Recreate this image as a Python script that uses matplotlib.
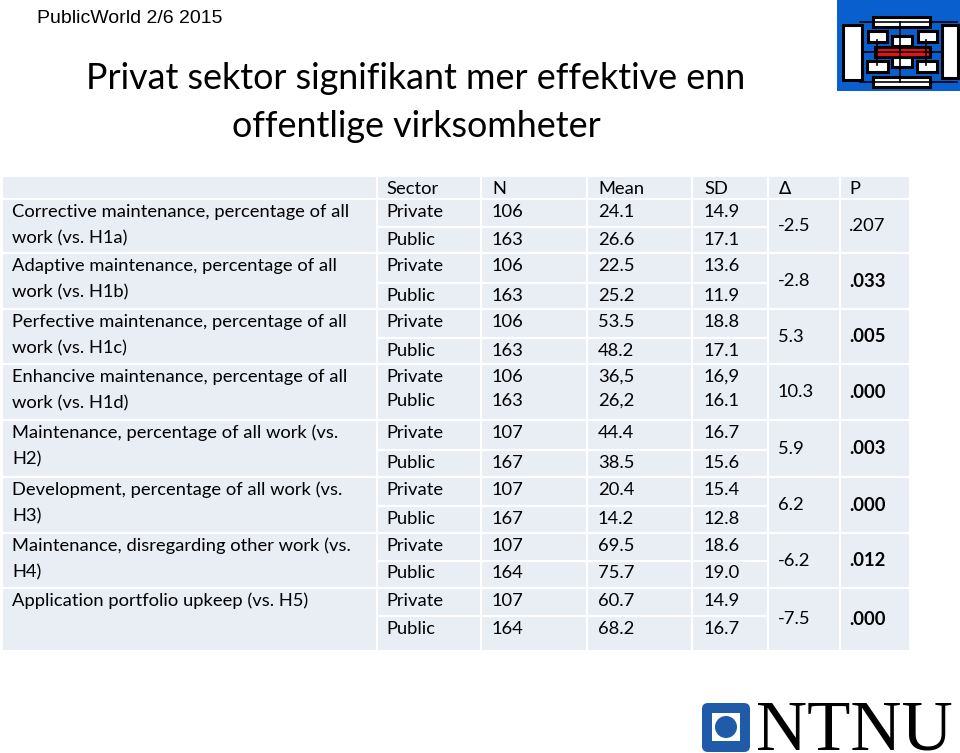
import matplotlib
matplotlib.use("Agg")
import matplotlib.pyplot as plt
from matplotlib.patches import Rectangle, FancyBboxPatch, Circle

# Table data
measures = [
    ["Corrective maintenance, percentage of all", "work (vs. H1a)"],
    ["Adaptive maintenance, percentage of all", "work (vs. H1b)"],
    ["Perfective maintenance, percentage of all", "work (vs. H1c)"],
    ["Enhancive maintenance, percentage of all", "work (vs. H1d)"],
    ["Maintenance, percentage of all work (vs.", "H2)"],
    ["Development, percentage of all work (vs.", "H3)"],
    ["Maintenance, disregarding other work (vs.", "H4)"],
    ["Application portfolio upkeep (vs. H5)"],
]
sectors = ["Private", "Public"]
n_private = ["106", "106", "106", "106", "107", "107", "107", "107"]
n_public = ["163", "163", "163", "163", "167", "167", "164", "164"]
mean_private = ["24.1", "22.5", "53.5", "36,5", "44.4", "20.4", "69.5", "60.7"]
mean_public = ["26.6", "25.2", "48.2", "26,2", "38.5", "14.2", "75.7", "68.2"]
sd_private = ["14.9", "13.6", "18.8", "16,9", "16.7", "15.4", "18.6", "14.9"]
sd_public = ["17.1", "11.9", "17.1", "16.1", "15.6", "12.8", "19.0", "16.7"]
delta = ["-2.5", "-2.8", "5.3", "10.3", "5.9", "6.2", "-6.2", "-7.5"]
p_values = [".207", ".033", ".005", ".000", ".003", ".000", ".012", ".000"]
p_bold = [False, True, True, True, True, True, True, True]
headers = ["Sector", "N", "Mean", "SD", "\u2206", "P"]

# Layout (pixels)
col_x = [3, 377, 481, 587, 692, 768, 840, 909]
header_top, header_bottom = 177, 199
groups = [(199, 253, 227), (253, 309, 283), (309, 364, 338), (364, 420, None),
          (420, 477, 450), (477, 533, 506), (533, 588, 561), (588, 651, 616)]
cell_color = "#E9EDF4"
font = ["Lato", "DejaVu Sans"]
fs = 13.2

fig = plt.figure(figsize=(9.6, 7.53), dpi=100)
ax = fig.add_axes([0, 0, 1, 1])
ax.set_xlim(0, 960)
ax.set_ylim(753, 0)
ax.axis("off")

# Header line and title
ax.text(37, 18, "PublicWorld 2/6 2015", fontsize=14, family="Liberation Sans",
        va="center", ha="left", color="black")
ax.text(416, 78, "Privat sektor signifikant mer effektive enn", fontsize=25.8,
        family=font, va="center", ha="center", color="black")
ax.text(416, 126, "offentlige virksomheter", fontsize=25.8,
        family=font, va="center", ha="center", color="black")

# Table background
ax.add_patch(Rectangle((col_x[0], header_top), col_x[-1] - col_x[0],
                       groups[-1][1] - header_top, facecolor=cell_color,
                       edgecolor="none"))
lw = 1.6
for x in col_x[1:-1]:
    ax.plot([x, x], [header_top, groups[-1][1]], color="white", lw=lw)
ax.plot([col_x[0], col_x[-1]], [header_bottom, header_bottom], color="white", lw=lw)
for top, bottom, mid in groups:
    ax.plot([col_x[0], col_x[-1]], [bottom, bottom], color="white", lw=lw)
    if mid is not None:
        ax.plot([col_x[1], col_x[5]], [mid, mid], color="white", lw=lw)

# Header texts
text_x = [12, 386, 492, 598, 704, 778, 849]
for i, h in enumerate(headers):
    ax.text(text_x[i + 1], (header_top + header_bottom) / 2 + 1, h, fontsize=fs,
            family=font, va="center", ha="left")

# Body texts
for g, (top, bottom, mid) in enumerate(groups):
    for k, line in enumerate(measures[g]):
        ax.text(text_x[0], top + 13 + 26 * k, line, fontsize=fs, family=font,
                va="center", ha="left")
    y_priv = top + 13
    y_pub = (mid + 12.5) if mid is not None else top + 37
    rows = [(y_priv, sectors[0], n_private[g], mean_private[g], sd_private[g]),
            (y_pub, sectors[1], n_public[g], mean_public[g], sd_public[g])]
    for y, s, n, m, sd in rows:
        for j, val in enumerate([s, n, m, sd]):
            ax.text(text_x[j + 1], y, val, fontsize=fs, family=font,
                    va="center", ha="left")
    yc = (top + bottom) / 2
    ax.text(text_x[5], yc, delta[g], fontsize=fs, family=font, va="center", ha="left")
    ax.text(text_x[6], yc, p_values[g], fontsize=fs, family=font, va="center",
            ha="left", weight="bold" if p_bold[g] else "normal")

# Top-right logo
ax.add_patch(Rectangle((837, 0), 123, 91, facecolor="#0A5FCF", edgecolor="none"))
for x0, x1, y0, y1 in [(860, 957, 22, 22), (860, 957, 82, 82), (862, 942, 52, 52),
                       (900, 900, 22, 82), (877, 877, 40, 65), (926, 926, 40, 65)]:
    ax.plot([x0, x1], [y0, y1], color="black", lw=1.2)
boxes = [(843, 25, 19, 55), (942, 25, 16, 53), (873, 17, 57, 10), (873, 77, 57, 10),
         (868, 31, 19, 11), (918, 31, 19, 11), (892, 36, 20, 10), (892, 57, 20, 10),
         (867, 61, 21, 11), (917, 61, 20, 11)]
for bx, by, bw, bh in boxes:
    ax.add_patch(Rectangle((bx, by), bw, bh, facecolor="white", edgecolor="black", lw=2.2))
ax.add_patch(Rectangle((875, 47), 55, 10, facecolor="#EE1111", edgecolor="black", lw=2.2))

# NTNU logo
ax.add_patch(FancyBboxPatch((705, 706), 42, 43, boxstyle="round,pad=3,rounding_size=6",
                            facecolor="#1F5BA8", edgecolor="none"))
ax.add_patch(Rectangle((712, 713), 28, 28, facecolor="white", edgecolor="none"))
ax.add_patch(Circle((726, 727), 11, facecolor="#1F5BA8", edgecolor="none"))
ax.text(756, 750, "NTNU", fontsize=51, family="Liberation Serif", va="baseline",
        ha="left", color="black")

fig.savefig("out.png", dpi=100)
